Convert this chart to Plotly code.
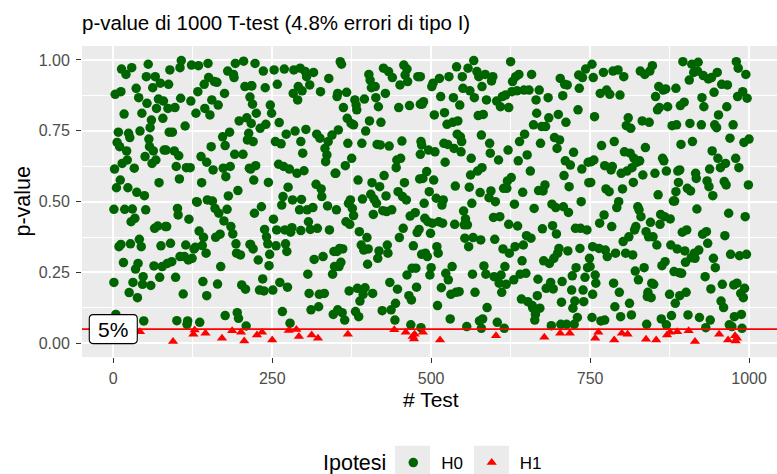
import plotly.graph_objects as go

# ---- data ----
h0_test = [
    55, 13, 29, 20, 52, 66, 74, 62, 12, 3, 36, 40, 71, 79, 53, 68, 17, 45, 60, 78,
    58, 8, 24, 42, 26, 56, 6, 10, 57, 21, 63, 80, 50, 67, 61, 22, 14, 2, 33, 11,
    72, 5, 23, 37, 49, 1, 18, 30, 51, 34, 28, 70, 65, 82, 9, 12, 27, 41, 44, 75,
    16, 39, 35, 64, 77, 47, 73, 1, 31, 46, 59, 25, 38, 4, 48,
    107, 89, 105, 123, 134, 149, 192, 205, 180, 189, 190, 87, 150, 159, 143, 163, 133, 175, 207, 217,
    106, 122, 155, 165, 86, 97, 144, 152, 130, 215, 198, 210, 113, 88, 93, 172, 183, 213, 211, 154,
    176, 83, 96, 103, 138, 191, 204, 99, 115, 121, 147, 157, 173, 184, 177, 214, 104, 139, 196, 181,
    131, 132, 148, 156, 101, 102, 119, 160, 166, 179, 84, 174, 185, 135, 142, 161, 168, 188, 193, 216,
    90, 114, 129, 140, 127, 146, 194, 200, 85, 92, 105, 112, 118, 124, 169, 98, 141, 164, 202, 208,
    110, 147, 176, 195, 197, 100, 117, 116, 136, 209,
    223, 236, 253, 269, 284, 294, 302, 315, 304, 218, 239, 258, 291, 309, 283, 297, 290, 326, 339, 219,
    247, 249, 225, 261, 217, 240, 231, 272, 286, 303, 320, 325, 344, 255, 264, 220, 295, 338, 333, 298,
    336, 334, 224, 216, 260, 268, 277, 289, 300, 349, 221, 244, 319, 327, 275, 328, 337, 267, 265, 282,
    296, 233, 222, 293, 305, 314, 351, 252, 238, 257, 270, 281, 279, 295, 307, 310, 321, 340, 241, 243,
    215, 220, 256, 271, 273, 228, 246, 245, 316, 330, 347, 348, 345, 306, 235, 230, 237, 251, 262, 274,
    308, 324, 332, 266, 311, 323, 346, 278,
    357, 359, 425, 433, 439, 457, 462, 459, 479, 402, 404, 406, 412, 451, 463, 353, 352, 367, 380, 382,
    395, 362, 383, 413, 417, 428, 449, 466, 483, 368, 374, 378, 403, 421, 354, 397, 369, 391, 415, 420,
    434, 454, 483, 446, 452, 445, 375, 365, 350, 385, 407, 419, 426, 458, 482, 448, 455, 461, 405, 410,
    414, 429, 373, 370, 392, 376, 378, 366, 372, 409, 424, 430, 438, 467, 475, 387, 399, 456, 450, 478,
    356, 361, 390, 394, 401, 418, 431, 432, 416, 400, 352, 358, 355, 472, 485, 470, 476, 462, 435, 371,
    384, 396, 393, 408, 388, 447, 465, 469, 477, 444, 353, 360, 364, 381, 386, 423, 437, 443, 468, 484,
    567, 540, 558, 549, 572, 575, 585, 597, 595, 483, 503, 513, 528, 501, 550, 561, 580, 488, 486, 515,
    535, 545, 568, 587, 603, 612, 609, 505, 521, 525, 534, 542, 574, 582, 541, 546, 548, 579, 592, 484,
    485, 496, 506, 520, 526, 536, 547, 593, 606, 563, 522, 493, 487, 504, 580, 573, 562, 538, 560, 577,
    594, 591, 601, 614, 508, 519, 517, 497, 489, 564, 551, 554, 552, 490, 495, 502, 512, 518, 537, 557,
    499, 598, 608, 481, 553, 566, 578, 559, 600, 509, 511, 491, 494, 613, 500, 498, 523, 527, 516, 533,
    565, 583, 586, 599, 610, 607, 611, 531, 539, 544, 569, 510, 588, 530, 576, 581, 604, 556, 579, 615,
    625, 638, 628, 633, 658, 617, 622, 627, 635, 646, 654, 665, 670, 684, 703, 714, 710, 732, 733, 743,
    738, 707, 731, 666, 685, 700, 661, 674, 680, 712, 647, 639, 672, 694, 702, 698, 724, 621, 637, 651,
    711, 719, 737, 747, 656, 709, 717, 620, 626, 748, 619, 644, 669, 679, 676, 631, 662, 690, 696, 708,
    716, 736, 622, 636, 675, 691, 697, 727, 735, 745, 657, 650, 645, 632, 623, 643, 701, 715, 734, 749,
    699, 693, 686, 677, 616, 640, 649, 618, 630, 668, 681, 692, 688, 706, 728, 722, 746, 742, 739, 721,
    642, 652, 659, 660, 671, 667, 705, 726, 740, 754, 723, 730, 725, 664, 663, 689, 704, 713,
    753, 755, 771, 786, 794, 803, 829, 836, 848, 844, 766, 776, 781, 797, 853, 858, 865, 869, 885, 872,
    859, 856, 757, 810, 807, 814, 832, 843, 879, 788, 768, 804, 813, 837, 756, 752, 773, 785, 783, 819,
    824, 828, 816, 808, 799, 833, 852, 864, 866, 870, 751, 775, 780, 801, 818, 857, 881, 795, 792, 825,
    827, 830, 845, 860, 861, 867, 876, 772, 765, 784, 822, 820, 838, 842, 849, 811, 802, 855, 877, 754,
    764, 774, 777, 790, 806, 817, 750, 758, 759, 821, 826, 835, 863, 868, 882, 787, 796, 841, 846, 847,
    840, 850, 875, 884, 812, 789, 815, 798, 753, 767, 773, 839, 862, 878, 870,
    896, 910, 920, 913, 919, 928, 936, 941, 950, 906, 957, 966, 980, 983, 995, 945, 926, 929, 898, 892,
    965, 982, 990, 997, 952, 886, 907, 925, 946, 949, 975, 970, 992, 1000, 893, 911, 942, 951, 963, 955,
    979, 984, 938, 891, 888, 916, 917, 934, 937, 961, 964, 943, 903, 908, 889, 885, 999, 883, 918, 968,
    994, 902, 895, 927, 933, 935, 962, 887, 899, 921, 914, 909, 900, 915, 944, 971, 985, 996, 947, 890,
    894, 931, 940, 958, 976, 981, 993, 987, 991, 901, 891, 956, 960, 904, 922, 939, 977, 988, 932, 969,
    973, 989,
]
h0_p = [
    .985, .968, .973, .949, .941, .941, .918, .902, .888, .879, .900, .867, .862, .855, .847, .829, .809, .812, .788, .794,
    .761, .745, .741, .749, .726, .721, .709, .694, .694, .679, .679, .682, .659, .647, .635, .647, .635, .615, .618, .576,
    .567, .549, .549, .533, .521, .473, .473, .474, .471, .441, .429, .414, .406, .412, .341, .349, .351, .367, .341, .344,
    .285, .282, .262, .273, .271, .235, .233, .215, .215, .208, .204, .179, .161, .102, .079,
    .998, .965, .973, .982, .980, .988, .988, .996, .961, .949, .938, .914, .938, .924, .914, .921, .888, .882, .906, .909,
    .865, .855, .859, .841, .829, .832, .829, .806, .812, .869, .785, .796, .767, .745, .745, .729, .745, .741, .718, .694,
    .698, .682, .679, .662, .659, .667, .667, .624, .620, .620, .639, .612, .618, .624, .588, .618, .580, .567, .539, .520,
    .500, .498, .506, .502, .476, .453, .438, .476, .459, .473, .412, .432, .412, .396, .374, .374, .385, .386, .351, .349,
    .353, .347, .339, .345, .333, .318, .318, .312, .282, .288, .306, .306, .294, .300, .271, .233, .218, .209, .206, .191,
    .174, .168, .098, .108, .088, .080, .079, .067, .074, .061,
    .988, .961, .965, .968, .965, .971, .959, .956, .941, .909, .902, .914, .906, .912, .882, .891, .859, .888, .935, .844,
    .841, .812, .812, .779, .776, .773, .759, .738, .749, .755, .738, .724, .735, .712, .704, .712, .712, .712, .688, .671,
    .665, .641, .627, .615, .632, .624, .615, .600, .609, .600, .576, .568, .561, .545, .551, .518, .485, .518, .488, .506,
    .508, .482, .459, .471, .471, .479, .471, .438, .402, .400, .400, .408, .392, .398, .429, .402, .406, .400, .376, .351,
    .349, .333, .344, .351, .324, .294, .314, .274, .296, .306, .324, .271, .244, .244, .227, .188, .185, .188, .215, .198,
    .176, .173, .176, .112, .118, .129, .102, .071,
    .994, .985, .971, .959, .938, .982, .968, .947, .941, .949, .929, .902, .906, .912, .924, .882, .871, .886, .859, .841,
    .862, .832, .824, .867, .835, .882, .832, .839, .844, .794, .776, .771, .785, .780, .753, .749, .706, .706, .702, .700,
    .696, .714, .667, .647, .653, .620, .653, .627, .600, .576, .567, .553, .592, .567, .580, .535, .518, .506, .526, .509,
    .494, .520, .506, .494, .509, .476, .451, .429, .420, .455, .468, .465, .471, .449, .461, .394, .373, .406, .373, .391,
    .335, .333, .347, .329, .333, .326, .347, .318, .300, .279, .324, .286, .271, .344, .314, .265, .265, .241, .215, .185,
    .194, .196, .173, .176, .149, .191, .168, .153, .198, .141, .118, .108, .082, .112, .094, .115, .118, .082, .065, .055,
    .998, .976, .971, .941, .959, .941, .949, .941, .926, .941, .918, .935, .941, .906, .900, .891, .906, .853, .844, .871,
    .867, .841, .867, .859, .855, .871, .835, .806, .814, .773, .780, .785, .804, .808, .738, .729, .712, .735, .706, .712,
    .700, .682, .676, .706, .702, .688, .676, .671, .647, .653, .639, .606, .582, .576, .620, .608, .594, .555, .551, .532,
    .538, .514, .500, .547, .512, .506, .488, .535, .494, .494, .467, .439, .418, .441, .429, .424, .429, .424, .420, .418,
    .388, .444, .447, .402, .371, .373, .365, .341, .367, .341, .318, .318, .306, .333, .267, .241, .247, .224, .196, .271,
    .244, .273, .244, .235, .241, .212, .180, .173, .180, .182, .180, .133, .126, .086, .079, .086, .074, .059, .053, .053,
    .994, .949, .924, .941, .949, .876, .832, .888, .891, .894, .894, .859, .894, .867, .935, .912, .914, .947, .900, .968,
    .938, .874, .824, .812, .796, .808, .771, .765, .765, .780, .738, .712, .706, .726, .718, .688, .674, .682, .644, .665,
    .644, .629, .615, .639, .608, .592, .553, .573, .585, .567, .547, .533, .539, .559, .538, .491, .476, .491, .479, .482,
    .462, .500, .420, .414, .404, .415, .386, .406, .406, .400, .371, .380, .347, .341, .318, .291, .335, .326, .335, .300,
    .318, .300, .282, .291, .271, .244, .247, .208, .224, .226, .194, .192, .215, .218, .267, .238, .267, .233, .188, .188,
    .156, .147, .133, .124, .124, .168, .145, .149, .147, .173, .124, .091, .067, .102, .082, .062, .067, .067,
    .985, .938, .956, .961, .965, .941, .961, .949, .980, .961, .882, .894, .879, .876, .871, .906, .894, .898, .900, .835,
    .832, .824, .800, .796, .768, .759, .785, .780, .768, .712, .698, .676, .671, .691, .647, .641, .627, .624, .612, .653,
    .639, .644, .620, .608, .600, .594, .600, .653, .644, .608, .568, .545, .535, .545, .568, .524, .502, .500, .479, .482,
    .471, .447, .427, .420, .455, .447, .439, .453, .424, .412, .412, .400, .394, .376, .376, .376, .359, .347, .347, .341,
    .335, .329, .306, .318, .318, .312, .271, .241, .212, .255, .224, .267, .274, .288, .253, .212, .180, .180, .161, .212,
    .165, .208, .173, .141, .141, .129, .100, .094, .091, .079, .082, .067, .086, .098, .065,
    .994, .985, .992, .956, .961, .945, .933, .938, .956, .929, .914, .912, .994, .971, .949, .886, .867, .835, .851, .839,
    .835, .871, .888, .865, .806, .771, .776, .771, .771, .761, .771, .724, .709, .721, .702, .712, .679, .653, .635, .620,
    .653, .620, .615, .612, .608, .600, .582, .573, .553, .571, .559, .521, .547, .538, .568, .535, .559, .502, .474, .459,
    .447, .400, .392, .385, .394, .353, .380, .333, .326, .329, .318, .302, .286, .300, .300, .314, .309, .314, .267, .249,
    .247, .235, .192, .208, .206, .212, .194, .176, .161, .180, .168, .149, .126, .100, .091, .082, .094, .102, .055, .065,
    .059, .053,
]
h1_test = [
    8, 20, 42, 94, 128, 126, 145, 171, 187, 201, 206,
    226, 234, 250, 276, 288, 292, 312, 322,
    369, 442, 460, 471, 473, 474, 487,
    514, 602, 678, 703, 718,
    758, 763, 788, 800, 809, 838, 854, 871, 876, 887,
    905, 915, 953, 967, 978, 979, 981,
]
h1_p = [
    .030, .020, .041, .006, .047, .032, .035, .018, .044, .039, .008,
    .029, .039, .012, .045, .049, .024, .029, .018,
    .032, .048, .039, .024, .015, .032, .039,
    .012, .027, .021, .035, .035,
    .018, .039, .012, .035, .032, .014, .012, .029, .039, .041,
    .044, .006, .032, .012, .027, .008, .018,
]
assert len(h0_test) == len(h0_p)
assert len(h1_test) == len(h1_p)

x_ticks = [0, 250, 500, 750, 1000]
y_ticks = [0.0, 0.25, 0.5, 0.75, 1.0]
y_tick_text = ["0.00", "0.25", "0.50", "0.75", "1.00"]
alpha = 0.05
label_x = 0

FONT = "Liberation Sans, Arial, sans-serif"
W, H = 777, 474
ML, MT, PR, PB = 82, 46, 777, 357  # panel edges in px


def px_x(p):
    return (p - ML) / (PR - ML)


def px_y(p):
    return (PB - p) / (PB - MT)


fig = go.Figure()
fig.add_trace(go.Scatter(
    x=h0_test, y=h0_p, mode="markers", name="H0", legend="legend",
    marker=dict(color="#006400", size=9.5, symbol="circle"),
))
fig.add_trace(go.Scatter(
    x=h1_test, y=h1_p, mode="markers", name="H1", legend="legend2",
    marker=dict(color="#FF0000", size=9, symbol="triangle-up"),
))

axis_common = dict(
    showgrid=True, gridcolor="white", gridwidth=2,
    zeroline=False, showline=False,
    ticks="outside", ticklen=5, tickwidth=1.4, tickcolor="#333333",
    tickfont=dict(family=FONT, size=16, color="#4D4D4D"),
)

legend_common = dict(orientation="h", xanchor="left", y=px_y(463), yanchor="middle",
                     font=dict(family=FONT, size=17, color="black"),
                     itemwidth=46, bgcolor="rgba(0,0,0,0)", borderwidth=0)

fig.update_layout(
    width=W, height=H,
    margin=dict(l=ML, r=W - PR, t=MT, b=H - PB, autoexpand=False),
    paper_bgcolor="white", plot_bgcolor="#EBEBEB",
    title=dict(text="p-value di 1000 T-test (4.8% errori di tipo I)",
               x=ML / W, xanchor="left", xref="container",
               y=1 - 22.5 / H, yanchor="middle", yref="container",
               font=dict(family=FONT, size=20.5, color="black")),
    xaxis=dict(range=[-49.2, 1044], tickmode="array", tickvals=x_ticks,
               ticklabelstandoff=2,
               minor=dict(tickmode="linear", tick0=0, dtick=125, showgrid=True,
                          gridcolor="white", gridwidth=1, ticks=""),
               **axis_common),
    yaxis=dict(range=[-0.0484, 1.0494], tickmode="array", tickvals=y_ticks,
               ticktext=y_tick_text, ticklabelstandoff=3,
               minor=dict(tickmode="linear", tick0=0, dtick=0.125, showgrid=True,
                          gridcolor="white", gridwidth=1, ticks=""),
               **axis_common),
    showlegend=True,
    legend=dict(x=px_x(413.3 - 28), **legend_common),
    legend2=dict(x=px_x(491.7 - 28), **legend_common),
)

# threshold line
fig.add_shape(type="line", xref="paper", x0=0, x1=1, yref="y", y0=alpha, y1=alpha,
              line=dict(color="#FF0000", width=1.6), layer="above")

# rounded label box for "5%" (pixel-sized, anchored at the data point)
a, b, r = 24, 14.5, 4
box_path = (f"M{-a + r},{-b} L{a - r},{-b} Q{a},{-b} {a},{-b + r} "
            f"L{a},{b - r} Q{a},{b} {a - r},{b} L{-a + r},{b} "
            f"Q{-a},{b} {-a},{b - r} L{-a},{-b + r} Q{-a},{-b} {-a + r},{-b} Z")
fig.add_shape(type="path", xref="x", yref="y", xsizemode="pixel", ysizemode="pixel",
              xanchor=label_x, yanchor=alpha, path=box_path,
              fillcolor="white", line=dict(color="black", width=1.1), layer="above")

# legend key backgrounds
for x0, x1 in [(395, 430), (474, 509)]:
    fig.add_shape(type="rect", xref="paper", yref="paper",
                  x0=px_x(x0), x1=px_x(x1), y0=px_y(445.7), y1=px_y(480.7),
                  fillcolor="#EBEBEB", line=dict(width=0), layer="below")

annotations = [
    dict(text="5%", x=label_x, y=alpha, xref="x", yref="y", showarrow=False,
         xanchor="center", yanchor="middle",
         font=dict(family=FONT, size=21, color="black")),
    dict(text="# Test", x=px_x(430.5), y=px_y(399.5), xref="paper", yref="paper",
         showarrow=False, xanchor="center", yanchor="middle", borderpad=0,
         font=dict(family=FONT, size=21, color="black")),
    dict(text="p-value", x=px_x(22), y=0.5, xref="paper", yref="paper",
         showarrow=False, textangle=-90, xanchor="center", yanchor="middle",
         font=dict(family=FONT, size=21.5, color="black")),
    dict(text="Ipotesi", x=px_x(320.5), y=px_y(463), xref="paper", yref="paper",
         showarrow=False, xanchor="left", yanchor="middle",
         font=dict(family=FONT, size=21.5, color="black")),
]
fig.update_layout(annotations=annotations)

fig.write_html("out.html")
